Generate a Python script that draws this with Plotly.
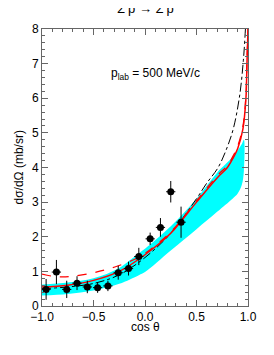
import plotly.graph_objects as go

# Data points
cos_theta = [-0.96, -0.86, -0.76, -0.66, -0.56, -0.46, -0.36, -0.26, -0.16, -0.06, 0.05, 0.15, 0.25, 0.35]
dsig = [0.48, 0.98, 0.48, 0.66, 0.55, 0.53, 0.58, 0.96, 1.08, 1.43, 1.94, 2.27, 3.30, 2.42]
dsig_err = [0.30, 0.35, 0.25, 0.20, 0.18, 0.15, 0.15, 0.20, 0.20, 0.25, 0.18, 0.27, 0.31, 0.45]
x_err = [0.045] * len(cos_theta)

# Cyan band
band_x = [-1.0, -0.75, -0.5, -0.25, -0.06, 0.0, 0.25, 0.5, 0.7, 0.85, 0.9, 0.94, 0.96]
band_lo = [0.30, 0.35, 0.45, 0.64, 0.89, 0.98, 1.60, 2.22, 2.72, 3.10, 3.25, 3.50, 3.90]
band_hi = [0.62, 0.68, 0.80, 1.10, 1.52, 1.65, 2.30, 3.10, 3.85, 4.30, 4.50, 4.68, 4.80]

# Red solid
red_x = [-1.0, -0.75, -0.5, -0.25, 0.0, 0.25, 0.35, 0.5, 0.7, 0.8, 0.86, 0.9, 0.95, 0.98, 0.99, 1.0]
red_y = [0.55, 0.60, 0.74, 1.00, 1.48, 2.10, 2.45, 3.00, 3.70, 4.00, 4.30, 4.55, 5.10, 6.00, 7.00, 8.00]

# Red dashed
redd_x = [-1.0, -0.9, -0.8, -0.7, -0.5, -0.3, -0.1, 0.0, 0.25, 0.5, 0.7, 0.8, 0.86, 0.9, 0.95, 0.98, 0.99, 1.0]
redd_y = [0.92, 0.86, 0.84, 0.86, 0.96, 1.12, 1.35, 1.52, 2.14, 3.04, 3.76, 4.06, 4.36, 4.62, 5.18, 6.10, 7.10, 8.00]

# Black dash-dot
blk_x = [-1.0, -0.75, -0.5, -0.25, 0.0, 0.25, 0.5, 0.6, 0.71, 0.8, 0.86, 0.92, 0.955, 0.975, 0.985]
blk_y = [0.50, 0.55, 0.65, 0.90, 1.40, 2.10, 3.10, 3.55, 4.00, 4.60, 5.15, 6.10, 7.10, 8.00, 8.60]

FONT = "Liberation Sans, Arial"

fig = go.Figure()

fig.add_trace(go.Scatter(
    x=band_x + band_x[::-1], y=band_hi + band_lo[::-1],
    fill="toself", fillcolor="#00FFFF", line=dict(width=0, shape="spline"),
    mode="lines", hoverinfo="skip", showlegend=False))

fig.add_trace(go.Scatter(x=blk_x, y=blk_y, mode="lines",
                         line=dict(color="black", width=1, dash="dashdot", shape="spline"),
                         showlegend=False))
fig.add_trace(go.Scatter(x=redd_x, y=redd_y, mode="lines",
                         line=dict(color="red", width=1.2, dash="dash", shape="spline"),
                         showlegend=False))
fig.add_trace(go.Scatter(x=red_x, y=red_y, mode="lines",
                         line=dict(color="red", width=1.5, shape="spline"),
                         showlegend=False))

fig.add_trace(go.Scatter(
    x=cos_theta, y=dsig, mode="markers",
    marker=dict(color="black", size=7),
    error_y=dict(type="data", array=dsig_err, color="black", thickness=1, width=0),
    error_x=dict(type="data", array=x_err, color="black", thickness=1, width=0),
    showlegend=False))

axis_common = dict(
    showline=True, linecolor="#666666", linewidth=1, mirror="allticks",
    ticks="inside", ticklen=6, tickcolor="#666666",
    showgrid=False, zeroline=False, automargin=False,
    tickfont=dict(family=FONT, size=12, color="black"),
)

fig.update_xaxes(range=[-1, 1], dtick=0.5, tick0=-1, tickformat=".1f",
                 minor=dict(dtick=0.1, ticks="inside", ticklen=3, tickcolor="#666666"),
                 **axis_common)
fig.update_yaxes(range=[0, 8], dtick=1,
                 minor=dict(dtick=0.2, ticks="inside", ticklen=3, tickcolor="#666666"),
                 **axis_common)

fig.add_annotation(text="dσ/dΩ (mb/sr)", x=0, y=0.5, xref="paper", yref="paper",
                   xshift=-24, textangle=-90, showarrow=False, xanchor="center",
                   font=dict(family=FONT, size=12, color="black"))
fig.add_annotation(text="cos θ", x=0.5, y=0, xref="paper", yref="paper",
                   yshift=-21, showarrow=False, yanchor="middle",
                   font=dict(family=FONT, size=12, color="black"))
fig.add_annotation(text="p<sub>lab</sub> = 500 MeV/c", x=0.55, y=0.875, xref="paper", yref="paper",
                   showarrow=False, font=dict(family=FONT, size=12, color="black"))
fig.add_annotation(text="Σ<sup>-</sup>p → Σ<sup>-</sup>p", x=0.5, y=1.0, xref="paper", yref="paper",
                   yshift=21, showarrow=False, yanchor="middle",
                   font=dict(family=FONT, size=13, color="black"))

fig.update_layout(width=274, height=355, margin=dict(l=34, r=34, t=21, b=57),
                  plot_bgcolor="white", paper_bgcolor="white")

fig.write_html("out.html")
